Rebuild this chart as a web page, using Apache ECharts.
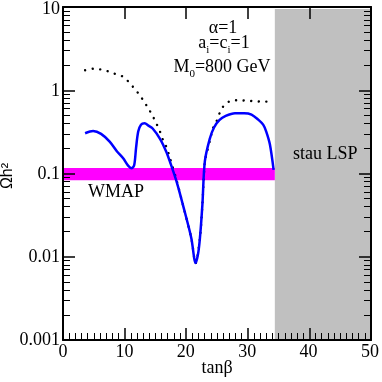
<!DOCTYPE html>
<html>
<head>
<meta charset="utf-8">
<script src="https://cdn.jsdelivr.net/npm/echarts@6/dist/echarts.min.js"></script>
<style>
html, body { margin: 0; padding: 0; background: #fff; }
#wrap { position: relative; width: 382px; height: 382px; }
#main, #frame { position: absolute; left: 0; top: 0; width: 382px; height: 382px; }
#frame { pointer-events: none; }
</style>
</head>
<body>
<div id="wrap"><div id="main"></div><div id="frame"></div></div>
<script>
// ---- data ----
var blueTanb = [3.6, 4.9, 6.2, 7.6, 8.8, 9.8, 10.6, 11.2, 11.6, 11.9, 12.25, 12.7, 13.3, 13.9, 14.6, 15.8, 16.8, 17.4, 18.5, 19.8, 20.9, 21.6, 22.0, 22.3, 22.7, 23.1, 23.9, 24.6, 25.5, 26.5, 28.0, 29.5, 30.7, 31.8, 32.6, 33.1, 33.7, 34.3];
var blueOmega = [0.315, 0.336, 0.31, 0.25, 0.19, 0.157, 0.128, 0.119, 0.13, 0.21, 0.33, 0.40, 0.415, 0.39, 0.36, 0.27, 0.19, 0.144, 0.082, 0.036, 0.017, 0.0085, 0.011, 0.017, 0.043, 0.144, 0.27, 0.37, 0.456, 0.51, 0.55, 0.55, 0.53, 0.46, 0.40, 0.33, 0.23, 0.114];

var dotTanb = [3.6, 4.9, 6.3, 7.6, 9.0, 9.8, 10.8, 11.6, 12.5, 13.2, 13.9, 14.6, 15.2, 15.8, 16.3, 16.9, 17.4, 18.5, 19.8, 20.9, 21.6, 22.3, 22.7, 23.1, 23.4, 24.1, 24.4, 25.0, 25.5, 26.2, 27.2, 28.5, 29.8, 31.1, 32.3, 33.7];
var dotOmega = [1.82, 1.9, 1.85, 1.74, 1.59, 1.52, 1.29, 1.10, 0.91, 0.76, 0.63, 0.51, 0.415, 0.33, 0.26, 0.21, 0.16, 0.085, 0.036, 0.017, 0.0085, 0.017, 0.043, 0.144, 0.18, 0.29, 0.36, 0.44, 0.55, 0.68, 0.77, 0.79, 0.78, 0.77, 0.76, 0.76];

var wmapBand = [0.085, 0.12];      // Omega h^2 range
var stauLspFrom = 34.5;            // tan beta where stau LSP region starts
var yTickValues = [0.001, 0.01, 0.1, 1, 10];

// minor ticks on the log axis: 2..9 per decade
var yMinorValues = [];
for (var d = 0; d < 4; d++) {
	for (var k = 2; k <= 9; k++) {
		yMinorValues.push(yTickValues[d] * k);
	}
}

function pairs(xs, ys) {
	var out = [];
	for (var i = 0; i < xs.length; i++) out.push([xs[i], ys[i]]);
	return out;
}

var serif = 'Liberation Serif';

/* ---------- main chart: labels, shading, curves, texts ---------- */
var chart = echarts.init(document.getElementById('main'));
chart.setOption({
	animation: false,
	backgroundColor: '#fff',
	grid: { left: 63, right: 11, top: 7, bottom: 42 },
	xAxis: {
		type: 'value', min: 0, max: 50, interval: 10,
		axisLine: { show: false }, axisTick: { show: false }, splitLine: { show: false },
		axisLabel: { margin: 3, color: '#000', fontFamily: serif, fontSize: 18 }
	},
	yAxis: {
		type: 'log', logBase: 10, min: 0.001, max: 10,
		axisLine: { show: false }, axisTick: { show: false }, splitLine: { show: false },
		axisLabel: { margin: 3, color: '#000', fontFamily: serif, fontSize: 18, customValues: yTickValues }
	},
	series: [
		{
			// shaded regions
			type: 'line', data: [], z: 1, silent: true,
			markArea: {
				silent: true,
				data: [
					[{ coord: [stauLspFrom, 0.001], itemStyle: { color: '#c0c0c0', opacity: 1 } }, { coord: [50, 10] }],
					[{ coord: [0, wmapBand[1]], itemStyle: { color: '#ff00ff', opacity: 1 } }, { coord: [stauLspFrom, wmapBand[0]] }]
				]
			}
		},
		{
			type: 'line', z: 3, data: pairs(dotTanb, dotOmega),
			symbol: 'none', smooth: 0.3,
			lineStyle: { color: '#000', width: 2.4, type: [0.1, 7.5], cap: 'round' }
		},
		{
			type: 'line', z: 4, data: pairs(blueTanb, blueOmega),
			symbol: 'none', smooth: 0.3,
			lineStyle: { color: '#0000ff', width: 2.5 }
		}
	],
	graphic: [
		{ type: 'text', x: 223, y: 28, z: 100, style: { text: 'α=1', font: '18px ' + serif, fill: '#000', align: 'center', verticalAlign: 'middle' } },
		{
			type: 'text', x: 224, y: 34, z: 100,
			style: {
				text: '{n|a}{s|i}{n|=c}{s|i}{n|=1}', fill: '#000', align: 'center', verticalAlign: 'top',
				rich: {
					n: { fontFamily: serif, fontSize: 18, lineHeight: 18, verticalAlign: 'top' },
					s: { fontFamily: serif, fontSize: 11, lineHeight: 11, padding: [11, 0, 0, 0], verticalAlign: 'top' }
				}
			}
		},
		{
			type: 'text', x: 222, y: 58, z: 100,
			style: {
				text: '{n|M}{s|0}{n|=800 GeV}', fill: '#000', align: 'center', verticalAlign: 'top',
				rich: {
					n: { fontFamily: serif, fontSize: 18, lineHeight: 18, verticalAlign: 'top' },
					s: { fontFamily: serif, fontSize: 11, lineHeight: 11, padding: [11, 0, 0, 0], verticalAlign: 'top' }
				}
			}
		},
		{ type: 'text', x: 88, y: 192, z: 100, style: { text: 'WMAP', font: '18px ' + serif, fill: '#000', align: 'left', verticalAlign: 'middle' } },
		{ type: 'text', x: 293, y: 154, z: 100, style: { text: 'stau LSP', font: '18px ' + serif, fill: '#000', align: 'left', verticalAlign: 'middle' } },
		{ type: 'text', x: 217, y: 368, z: 100, style: { text: 'tanβ', font: '18px ' + serif, fill: '#000', align: 'center', verticalAlign: 'middle' } },
		{ type: 'text', x: 8, y: 176, z: 100, rotation: Math.PI / 2, style: { text: 'Ωh²', font: '16px Liberation Sans', fill: '#000', align: 'center', verticalAlign: 'middle' } }
	]
});

/* ---------- frame chart on top: box and inside ticks, drawn over the grey area ---------- */
function tickX(pos) {
	return {
		type: 'value', position: pos, min: 0, max: 50, interval: 10,
		axisLine: { show: true, lineStyle: { color: '#000', width: 2 } },
		axisTick: { show: true, inside: true, length: 12, lineStyle: { color: '#000', width: 1.5 } },
		minorTick: { show: true, splitNumber: 10, length: 7, lineStyle: { color: '#000', width: 1 } },
		splitLine: { show: false },
		axisLabel: { show: false }
	};
}
function tickY(pos, major) {
	return {
		type: 'log', logBase: 10, position: pos, min: 0.001, max: 10,
		axisLine: { show: major, lineStyle: { color: '#000', width: 2 } },
		axisTick: {
			show: true, inside: true, length: major ? 12 : 7,
			customValues: major ? yTickValues : yMinorValues,
			lineStyle: { color: '#000', width: major ? 1.5 : 1 }
		},
		splitLine: { show: false },
		axisLabel: { show: false }
	};
}
var frame = echarts.init(document.getElementById('frame'));
frame.setOption({
	animation: false,
	grid: { left: 63, right: 11, top: 7, bottom: 42 },
	xAxis: [tickX('bottom'), tickX('top')],
	yAxis: [tickY('left', true), tickY('left', false), tickY('right', true), tickY('right', false)],
	series: [{ type: 'line', data: [[1, 0.1], [2, 0.1]], symbol: 'none', lineStyle: { opacity: 0 }, silent: true }]
});
</script>
</body>
</html>
